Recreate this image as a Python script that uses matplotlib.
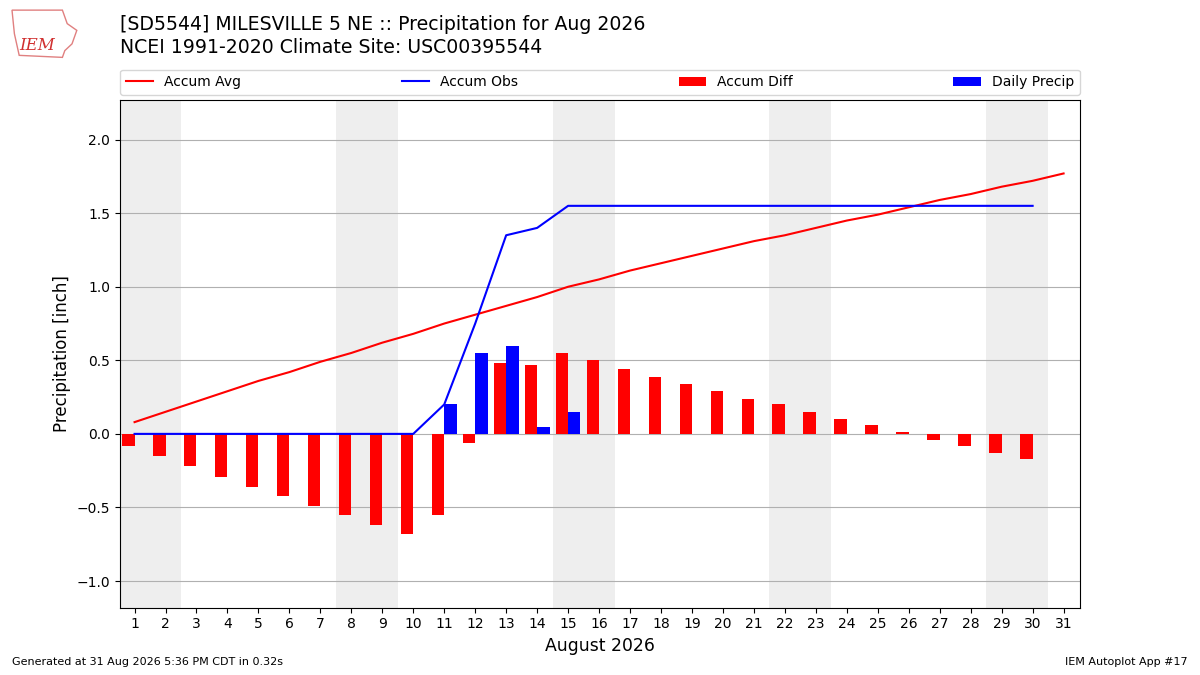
import matplotlib
matplotlib.use("Agg")
import matplotlib.pyplot as plt
from matplotlib.patches import Polygon

# day of month
days = list(range(1, 32))
obs_days = list(range(1, 31))

accum_avg = [0.08, 0.15, 0.22, 0.29, 0.36, 0.42, 0.49, 0.55, 0.62, 0.68,
             0.75, 0.81, 0.87, 0.93, 1.00, 1.05, 1.11, 1.16, 1.21, 1.26,
             1.31, 1.35, 1.40, 1.45, 1.49, 1.54, 1.59, 1.63, 1.68, 1.72, 1.77]
accum_obs = [0.0, 0.0, 0.0, 0.0, 0.0, 0.0, 0.0, 0.0, 0.0, 0.0,
             0.20, 0.75, 1.35, 1.40, 1.55, 1.55, 1.55, 1.55, 1.55, 1.55,
             1.55, 1.55, 1.55, 1.55, 1.55, 1.55, 1.55, 1.55, 1.55, 1.55]
accum_diff = [-0.08, -0.15, -0.22, -0.29, -0.36, -0.42, -0.49, -0.55, -0.62, -0.68,
              -0.55, -0.06, 0.48, 0.47, 0.55, 0.50, 0.44, 0.39, 0.34, 0.29,
              0.24, 0.20, 0.15, 0.10, 0.06, 0.01, -0.04, -0.08, -0.13, -0.17]
daily_precip = [0.0, 0.0, 0.0, 0.0, 0.0, 0.0, 0.0, 0.0, 0.0, 0.0,
                0.20, 0.55, 0.60, 0.05, 0.15, 0.0, 0.0, 0.0, 0.0, 0.0,
                0.0, 0.0, 0.0, 0.0, 0.0, 0.0, 0.0, 0.0, 0.0, 0.0]
weekends = [(0.5, 2.5), (7.5, 9.5), (14.5, 16.5), (21.5, 23.5), (28.5, 30.5)]

fig = plt.figure(figsize=(12, 6.75), dpi=100)
ax = fig.add_axes([0.1, 0.1, 0.8, 0.752])

for lo, hi in weekends:
    ax.axvspan(lo, hi, color="#eeeeee", zorder=0, lw=0)

ax.plot(days, accum_avg, color="r", label="Accum Avg", zorder=3)
ax.plot(obs_days, accum_obs, color="b", label="Accum Obs", zorder=3)
ax.bar(obs_days, accum_diff, width=-0.4, align="edge", color="r",
       label="Accum Diff", zorder=2)
ax.bar(obs_days, daily_precip, width=0.4, align="edge", color="b",
       label="Daily Precip", zorder=2)

ax.set_xlim(0.53, 31.53)
ax.set_ylim(-1.18, 2.27)
ax.set_xticks(days)
ax.set_yticks([-1.0, -0.5, 0.0, 0.5, 1.0, 1.5, 2.0])
ax.grid(True, axis="y", color="#b0b0b0", zorder=1)
ax.set_axisbelow(True)
ax.set_xlabel("August 2026", fontsize=12.4)
ax.set_ylabel("Precipitation [inch]", fontsize=12)

ax.legend(loc="lower left", bbox_to_anchor=(0, 1.01, 1, 0.1), ncol=4,
          mode="expand", borderaxespad=0, fontsize=10)

fig.text(0.1, 0.964, "[SD5544] MILESVILLE 5 NE :: Precipitation for Aug 2026",
         fontsize=13.6, va="center")
fig.text(0.1, 0.93, "NCEI 1991-2020 Climate Site: USC00395544",
         fontsize=13.6, va="center")

# rough logo stand-in: state outline with IEM text
outline = [(0.010, 0.985), (0.052, 0.985), (0.056, 0.965), (0.064, 0.955),
           (0.060, 0.935), (0.054, 0.925), (0.052, 0.915), (0.016, 0.918),
           (0.012, 0.95)]
fig.patches.append(Polygon(outline, closed=True, transform=fig.transFigure,
                           fill=False, ec="#e08080", lw=1))
fig.text(0.031, 0.933, "IEM", color="#d03030", fontsize=12, style="italic",
         family="serif", ha="center", va="center")

fig.text(0.01, 0.015, "Generated at 31 Aug 2026 5:36 PM CDT in 0.32s", fontsize=8)
fig.text(0.99, 0.015, "IEM Autoplot App #17", fontsize=8, ha="right")

fig.savefig("out.png")
